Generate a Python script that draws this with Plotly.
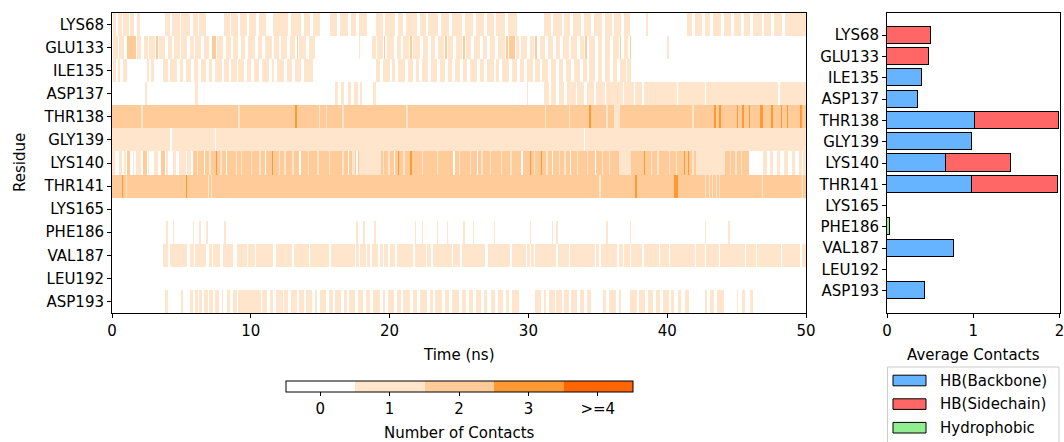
import numpy as np
import plotly.graph_objects as go

# ---------------- data ----------------
residues = ["LYS68", "GLU133", "ILE135", "ASP137", "THR138", "GLY139", "LYS140",
            "THR141", "LYS165", "PHE186", "VAL187", "LEU192", "ASP193"]

t_max = 50.0
dt = 0.1  # ns per frame

# contact segments per residue: (start_ns, end_ns, n_contacts), later entries overwrite earlier
seg_LYS68 = [(0.1,0.35,1),(0.45,0.7,1),(0.8,1.2,1),(1.3,1.65,1),(1.8,2.0,1),
             (3.75,4.2,1),(4.3,4.9,1),(5.0,5.6,1),(5.75,6.2,1),(6.35,6.8,1),
             (8.1,8.5,1),(8.6,9.1,1),(9.2,9.7,1),(9.9,10.4,1),(10.6,11.1,1),(11.6,12.7,1),
             (12.9,13.6,1),(13.8,14.3,1),(14.5,15.0,1),
             (15.7,16.2,1),(16.4,17.0,1),(17.2,17.6,1),(17.8,18.4,1),
             (19.0,19.5,1),(19.7,20.4,1),(20.6,21.0,1),(21.2,22.0,1),(22.2,22.6,1),(22.8,23.5,1),
             (23.7,24.3,1),(24.5,25.2,1),(25.4,26.0,1),(26.2,26.8,1),(27.0,27.5,1),(27.7,28.3,1),(28.5,29.2,1),
             (31.1,31.6,1),(31.8,32.4,1),(32.6,33.0,1),(33.2,33.8,1),(34.0,34.5,1),(34.7,35.3,1),
             (35.5,36.0,1),(36.2,36.7,1),(36.9,37.3,1),(38.5,38.6,1),
             (41.4,41.8,1),(42.0,42.5,1),(42.7,43.1,1),(43.3,43.9,1),(44.1,44.6,1),(44.8,45.3,1),
             (45.5,46.0,1),(46.2,46.8,1),(47.0,47.5,1),(47.7,48.3,1),(48.5,50.0,1)]
seg_GLU133 = [(0.1,0.4,1),(0.5,0.9,1),(1.1,1.7,2),(1.8,2.1,1),(2.3,2.6,1),(2.7,3.1,1),(3.2,3.3,2),
              (3.4,3.8,1),(4.0,4.3,1),(4.5,4.9,1),(5.0,5.4,1),(5.6,5.9,1),(6.0,6.4,1),(6.6,7.0,1),
              (7.2,7.5,2),(7.6,8.0,1),(8.2,8.6,1),(8.7,9.1,1),(9.3,9.6,1),(9.8,10.3,1),(10.5,10.8,1),
              (11.0,11.5,1),(11.7,12.0,1),(12.2,12.6,1),(12.8,13.2,1),(13.3,13.4,2),(13.5,14.0,1),(14.2,14.6,1),
              (17.75,17.85,1),
              (18.7,19.0,1),(19.1,19.5,1),(19.6,19.7,2),(19.8,20.3,1),(20.5,20.8,1),(21.0,21.4,1),
              (21.5,21.6,2),(21.7,22.2,1),(22.4,22.8,1),(23.0,23.3,1),(23.5,23.9,1),(24.0,24.1,2),
              (24.2,24.6,1),(24.8,25.2,1),(25.3,25.4,2),(25.5,25.9,1),(26.1,26.5,1),(26.7,27.0,1),
              (27.2,27.6,1),(27.8,28.3,1),(28.4,28.5,2),(28.6,29.0,2),(29.1,29.3,1),(29.5,29.9,1),
              (30.1,30.4,1),(30.5,30.6,2),(30.8,31.2,1),(31.4,31.8,1),(32.0,32.3,1),(32.5,32.9,1),
              (33.1,33.5,1),(33.7,34.0,1),(34.1,34.2,2),(34.4,34.8,1),(35.0,35.3,1),(35.5,35.9,1),
              (36.1,36.5,1),(36.6,36.7,2),(36.9,37.2,1),(37.3,37.4,2),
              (40.0,40.1,1)]
seg_ILE135 = [(0.1,0.3,1),(0.45,0.6,1),(0.8,1.1,1),(2.5,2.7,1),(2.85,3.0,1),(3.7,4.0,1),(4.2,4.7,1),
              (4.9,5.1,1),(5.3,5.7,1),(5.9,6.2,1),(6.4,6.8,1),(7.0,7.2,1),(7.4,7.9,1),(8.1,8.4,1),
              (8.6,9.0,1),(9.1,9.5,1),(9.7,10.0,1),(10.2,10.6,1),(10.8,11.3,1),(11.5,11.7,1),
              (11.9,12.4,1),(12.6,13.0,1),(13.2,13.6,1),(13.8,14.5,1),
              (19.0,19.3,1),(19.5,20.0,1),(20.2,20.4,1),(20.6,21.1,1),(21.3,21.7,1),(21.9,22.1,1),
              (22.3,22.8,1),(23.0,23.4,1),(23.6,24.0,1),(24.2,24.5,1),(24.7,25.1,1),(25.3,25.6,1),
              (25.8,26.3,1),(26.5,26.8,1),(27.0,27.5,1),(27.7,27.9,1),(28.1,28.6,1),(28.8,29.2,1),
              (29.4,29.7,1),(29.9,30.3,1),(30.5,30.8,1),(31.0,31.4,1),(31.6,32.0,1),(32.2,32.5,1),
              (32.7,33.1,1),(33.3,33.7,1),(33.9,34.2,1),(34.4,34.8,1),(35.0,35.3,1),(35.5,35.9,1),
              (36.1,36.4,1),(36.6,37.0,1),(37.1,37.4,1)]
seg_ASP137 = [(2.4,2.5,1),(6.05,6.15,1),(16.1,16.3,1),(16.5,16.7,1),(17.0,17.2,1),(17.4,17.7,1),
              (17.9,18.0,1),(18.8,19.0,1),(29.9,30.0,1),(31.1,31.5,1),(31.6,32.0,1),(32.2,32.6,1),
              (32.8,33.4,1),(33.5,34.0,1),(34.2,34.7,1),(34.9,35.5,1),(35.6,36.8,1),(36.9,37.6,1),
              (37.7,38.2,1),(38.3,40.7,1),(40.8,42.7,1),(42.8,48.0,1),(48.1,50.0,1)]
seg_THR138 = [(0.0,50.0,2),
              (2.1,2.2,1),(9.1,9.2,1),(14.9,15.0,1),(15.4,15.5,1),(16.6,16.7,1),(21.2,21.3,1),
              (31.2,31.3,1),(32.9,33.0,1),(35.6,35.7,1),(36.2,36.6,1),(41.8,41.9,1),
              (13.2,13.3,3),(34.4,34.5,3),(43.4,43.5,3),(43.7,43.9,3),(45.0,45.1,3),(45.4,45.5,3),
              (45.9,46.0,3),(46.7,46.9,3),(47.5,47.6,3),(48.2,48.3,3),(48.6,48.7,3),(49.6,49.7,3)]
seg_GLY139 = [(0.0,50.0,1),(4.2,4.3,0),(7.4,7.5,0),(34.0,34.1,0)]
seg_LYS140 = [(0.0,0.2,1),(0.5,0.7,1),(0.9,1.0,1),(1.1,1.3,2),(1.5,1.6,1),(1.7,2.1,1),(2.2,2.5,2),
              (2.6,2.7,1),(3.0,3.3,1),(3.5,3.8,2),(3.9,4.0,1),(4.4,4.6,1),(4.8,5.3,1),(5.4,5.7,1),
              (5.8,42.1,2),
              (6.1,6.2,1),(6.6,6.7,0),(7.0,7.1,1),(7.8,7.9,1),(8.2,8.3,0),(8.9,9.0,1),(9.3,9.4,1),
              (10.0,10.1,1),(10.6,10.7,1),(11.0,11.1,0),(12.0,12.1,1),(12.4,12.5,1),(13.0,13.1,1),
              (13.5,13.6,0),(14.1,14.2,1),(14.8,14.9,1),(15.6,15.7,1),(16.6,16.7,1),(17.0,17.1,0),
              (17.3,17.5,1),(17.6,17.7,0),(17.8,19.4,1),(19.5,19.6,1),(19.9,20.0,1),(20.3,20.4,0),
              (21.0,21.1,1),(22.3,22.4,1),(23.4,23.5,1),(24.6,24.7,0),(25.0,25.1,1),(25.8,25.9,1),
              (26.3,26.4,0),(26.6,26.7,1),(27.2,27.3,1),(28.0,28.1,1),(28.7,28.8,1),(29.5,29.6,0),
              (30.4,30.5,1),(31.3,31.4,1),(31.7,31.8,0),(32.2,32.3,1),(32.6,32.7,1),(33.0,33.1,0),
              (33.5,33.6,1),(34.2,34.3,1),(34.8,34.9,0),(35.3,35.4,1),(35.8,35.9,1),(36.5,37.4,1),
              (38.8,38.9,1),(39.3,39.4,1),(40.1,40.2,1),(40.6,40.7,1),(41.8,41.9,1),
              (7.5,7.6,3),(11.5,11.6,3),(20.6,20.7,3),(21.5,21.6,3),(30.1,30.2,3),(30.9,31.0,3),
              (38.3,38.4,3),(41.2,41.3,3),(41.5,41.6,3),
              (42.1,44.2,1),(44.2,45.9,2),(44.5,44.6,1),(44.9,45.0,1),(45.3,45.4,1),
              (46.9,47.2,1),(47.4,47.6,1),(47.9,48.1,1),(48.4,48.7,1),(49.0,49.2,1),(49.5,49.7,1),(49.85,50.0,1)]
seg_THR141 = [(0.0,50.0,2),
              (0.7,0.8,3),(5.3,5.4,3),(37.7,37.8,3),(40.5,40.8,3),
              (1.0,1.1,1),(6.9,7.0,1),(7.1,7.2,1),(35.1,35.2,1),(42.7,42.8,1),(42.95,43.05,1),
              (43.2,43.3,1),(43.5,43.6,1),(43.7,43.8,1),(46.8,46.9,1),(49.7,49.8,1)]
seg_LYS165 = []
seg_PHE186 = [(3.9,4.0,1),(4.4,4.5,1),(5.8,5.9,1),(6.3,6.4,1),(6.8,6.9,1),(8.1,8.2,1),(17.6,17.7,1),
              (18.1,18.2,1),(18.9,19.0,1),(21.8,21.9,1),(22.3,22.4,1),(23.4,23.5,1),(24.1,24.2,1),
              (25.3,25.4,1),(26.0,26.1,1),(27.5,27.6,1),(30.1,30.2,1),(31.7,31.8,1),(32.0,32.1,1),
              (35.6,35.7,1),(37.3,37.4,1),(42.7,42.8,1),(44.4,44.5,1)]
seg_VAL187 = [(3.7,50.0,1),
              (4.0,4.2,0),(5.4,5.6,0),(5.9,6.0,0),(6.8,7.0,0),(7.2,7.3,0),(7.8,8.0,0),(8.7,9.0,0),
              (9.7,9.8,0),(10.3,10.4,0),(11.6,11.8,0),(13.0,13.1,0),(14.2,14.3,0),(15.6,15.8,0),
              (17.5,17.6,0),(17.8,17.9,0),(18.3,18.4,0),(18.6,18.7,0),(19.2,19.3,0),(19.5,19.6,0),
              (19.9,20.0,0),(20.4,20.5,0),(21.7,21.8,0),(22.6,22.7,0),(23.0,23.1,0),(24.5,24.6,0),
              (25.1,25.2,0),(26.9,27.1,0),(28.7,28.8,0),(29.8,29.9,0),(30.1,30.2,0),(30.4,30.5,0),
              (32.0,32.1,0),(32.9,33.0,0),(34.8,34.9,0),(35.1,35.2,0),(36.4,36.5,0),(36.8,36.9,0),
              (37.3,37.4,0),(38.2,38.3,0),(39.4,39.5,0),(40.1,40.2,0),(42.0,42.1,0),(42.7,42.8,0),
              (43.7,43.8,0),(45.6,45.7,0),(46.4,46.5,0),(48.2,48.3,0),(49.6,49.7,0)]
seg_LEU192 = []
seg_ASP193 = [(3.85,3.95,1),(5.0,5.1,1),(5.6,5.8,1),(5.95,6.2,1),(6.3,6.5,1),(6.65,6.9,1),(7.0,7.3,1),
              (7.45,7.7,1),(7.9,8.0,1),(8.3,8.5,1),(8.7,9.0,1),(9.1,10.7,1),(10.8,11.2,1),(11.4,11.6,1),
              (11.8,12.3,1),(12.4,12.7,1),(12.9,13.3,1),(13.5,13.8,1),(14.0,14.4,1),(14.6,14.8,1),
              (15.0,15.4,1),(15.6,15.9,1),(16.1,16.5,1),(16.7,16.9,1),(17.1,17.5,1),(17.7,18.1,1),
              (18.3,18.6,1),(18.8,19.3,1),(19.5,19.7,1),(19.9,20.3,1),(20.5,20.8,1),(21.0,21.5,1),
              (21.7,22.0,1),(22.2,22.7,1),(22.9,23.1,1),(23.3,23.8,1),(24.0,24.3,1),(24.5,25.0,1),
              (25.2,25.5,1),(25.7,26.0,1),(26.2,26.6,1),(26.8,27.0,1),(27.3,27.6,1),(27.8,28.2,1),
              (28.4,28.6,1),(28.8,29.3,1),(30.5,30.9,1),(31.1,31.3,1),(31.5,31.9,1),(32.0,32.4,1),
              (32.6,32.9,1),(33.1,33.5,1),(33.7,34.0,1),(34.2,34.5,1),(35.4,35.6,1),(35.8,36.3,1),
              (36.5,36.7,1),(37.3,37.8,1),(38.0,38.4,1),(38.6,39.0,1),(39.2,39.5,1),(39.7,40.1,1),
              (40.3,40.5,1),(40.8,41.0,1),(41.3,41.6,1),(42.7,42.9,1),(43.1,43.4,1),(43.6,44.1,1),
              (45.0,45.1,1),(45.4,45.6,1),(46.0,46.2,1)]

segments = [seg_LYS68, seg_GLU133, seg_ILE135, seg_ASP137, seg_THR138, seg_GLY139, seg_LYS140,
            seg_THR141, seg_LYS165, seg_PHE186, seg_VAL187, seg_LEU192, seg_ASP193]

# average contacts (right panel)
hb_backbone  = [0.0, 0.0, 0.40, 0.36, 1.02, 0.99, 0.68, 0.98, 0.004, 0.0, 0.78, 0.003, 0.445]
hb_sidechain = [0.51, 0.485, 0.0, 0.0, 0.97, 0.0, 0.755, 1.005, 0.0, 0.0, 0.0, 0.0, 0.0]
hydrophobic  = [0.0, 0.0, 0.0, 0.0, 0.0, 0.0, 0.0, 0.0, 0.0, 0.04, 0.0, 0.0, 0.0]

cbar_labels = ["0", "1", "2", "3", ">=4"]
contact_colors = ["#ffffff", "#ffe5cc", "#ffcc99", "#ff9933", "#ff6600"]
bar_colors = {"HB(Backbone)": "#66b3ff", "HB(Sidechain)": "#ff6666", "Hydrophobic": "#90ee90"}

# ---------------- build matrix ----------------
n_frames = int(round(t_max / dt))
times = (np.arange(n_frames) + 0.5) * dt
Z = np.zeros((len(residues), n_frames), dtype=int)
for r, segs in enumerate(segments):
    for a, b, v in segs:
        i0 = int(round(a / dt))
        i1 = max(int(round(b / dt)), i0 + 1)
        Z[r, i0:min(i1, n_frames)] = v

# discrete colorscale
cs = []
n = len(contact_colors)
for k, c in enumerate(contact_colors):
    cs.append([k / n, c])
    cs.append([(k + 1) / n, c])

W, H = 1064, 442
FONT = "DejaVu Sans"
FS = 15

def px_x(p):
    return p / W

def px_y(p):
    return 1 - p / H

fig = go.Figure()

fig.add_trace(go.Heatmap(
    z=Z, x=times, y=list(range(len(residues))),
    colorscale=cs, zmin=-0.5, zmax=4.5, showscale=True,
    xaxis="x", yaxis="y", hoverinfo="skip",
    colorbar=dict(
        orientation="h", x=px_x(459), xanchor="center", y=px_y(380.7), yanchor="top",
        lenmode="pixels", len=346.6, thickness=11, thicknessmode="pixels",
        outlinewidth=1, outlinecolor="#000", xpad=0, ypad=0,
        tickvals=[0, 1, 2, 3, 4], ticktext=cbar_labels, ticks="outside", ticklen=4,
        tickcolor="#000", tickfont=dict(family=FONT, size=FS, color="#000"),
    ),
))

ypos = list(range(len(residues)))
for name, vals in [("HB(Backbone)", hb_backbone), ("HB(Sidechain)", hb_sidechain),
                   ("Hydrophobic", hydrophobic)]:
    fig.add_trace(go.Bar(
        x=vals, y=ypos, orientation="h", width=0.8, name=name,
        marker=dict(color=bar_colors[name], line=dict(color="#000", width=1.2)),
        xaxis="x2", yaxis="y2", showlegend=False, hoverinfo="skip",
    ))

ydom = [px_y(313), px_y(13)]
axis_common = dict(showline=True, linecolor="#000", linewidth=1, mirror=True,
                   ticks="outside", ticklen=4, tickcolor="#000", showgrid=False,
                   zeroline=False, ticklabeloverflow="allow",
                   tickfont=dict(family=FONT, size=FS, color="#000"))

fig.update_layout(
    width=W, height=H, margin=dict(l=0, r=0, t=0, b=0, autoexpand=False),
    paper_bgcolor="white", plot_bgcolor="white",
    barmode="stack", bargap=0,
    font=dict(family=FONT, size=FS, color="#000"),
    xaxis=dict(domain=[px_x(112), px_x(806)], range=[0, 50], tickvals=[0, 10, 20, 30, 40, 50],
               anchor="y", **axis_common),
    yaxis=dict(domain=ydom, range=[12.5, -0.5], tickvals=ypos, ticktext=residues,
               anchor="x", **axis_common),
    xaxis2=dict(domain=[px_x(887), px_x(1059.5)], range=[0, 2], tickvals=[0, 1, 2],
                anchor="y2", **axis_common),
    yaxis2=dict(domain=ydom, range=[13.04, -1.04], tickvals=ypos, ticktext=residues,
                anchor="x2", **axis_common),
)

ann = [
    dict(text="Residue", x=px_x(20), y=px_y(163), textangle=-90),
    dict(text="Time (ns)", x=px_x(459), y=px_y(355)),
    dict(text="Average Contacts", x=px_x(973), y=px_y(355)),
    dict(text="Number of Contacts", x=px_x(459), y=px_y(433)),
]
for a in ann:
    fig.add_annotation(xref="paper", yref="paper", showarrow=False, xanchor="center",
                       yanchor="middle", font=dict(family=FONT, size=FS, color="#000"), **a)

# legend (drawn manually to mimic wide patches)
fig.add_shape(type="rect", xref="paper", yref="paper",
              x0=px_x(887.5), x1=px_x(1059), y0=px_y(455), y1=px_y(367),
              line=dict(color="#cccccc", width=1), fillcolor="rgba(255,255,255,0.8)")
for i, name in enumerate(["HB(Backbone)", "HB(Sidechain)", "Hydrophobic"]):
    yc = 380.5 + i * 23.6
    fig.add_shape(type="rect", xref="paper", yref="paper",
                  x0=px_x(893), x1=px_x(926), y0=px_y(yc + 5.3), y1=px_y(yc - 5.3),
                  line=dict(color="#000", width=1), fillcolor=bar_colors[name])
    fig.add_annotation(xref="paper", yref="paper", x=px_x(938), y=px_y(yc), text=name,
                       showarrow=False, xanchor="left", yanchor="middle",
                       font=dict(family=FONT, size=FS, color="#000"))

fig.write_html("out.html",
               config={"displayModeBar": False},
               post_script="document.body.style.margin='0';document.body.style.overflow='hidden';")
